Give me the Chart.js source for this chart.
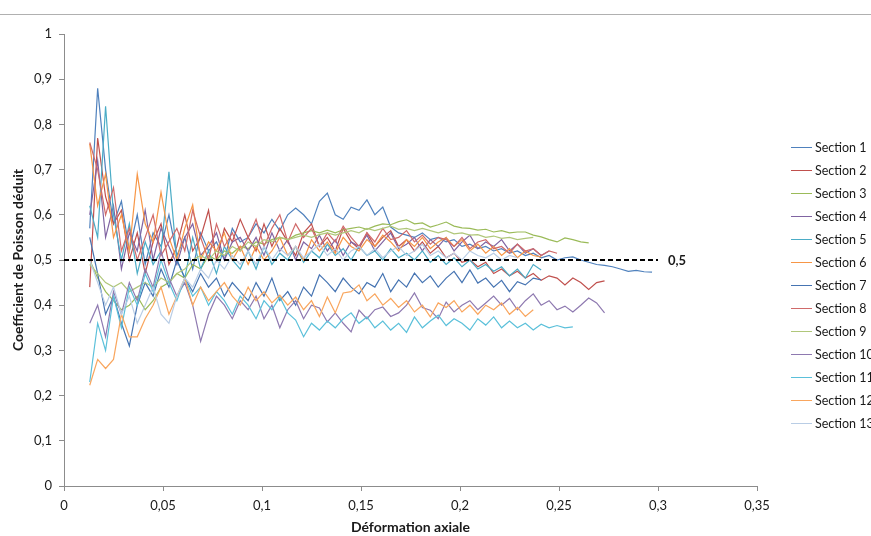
<!DOCTYPE html>
<html><head><meta charset="utf-8">
<script src="https://cdn.jsdelivr.net/npm/chart.js@4/dist/chart.umd.min.js"></script>
<style>html,body{margin:0;padding:0;background:#fff;overflow:hidden}canvas{display:block}</style>
</head><body>
<canvas id="c" width="871" height="536"></canvas>
<script>
// Axial strain sample grid
const xs = [0.013,0.017,0.021,0.025,0.029,0.033,0.037,0.041,0.045,0.049,
0.053,0.057,0.061,0.065,0.069,0.073,0.077,0.081,0.085,0.089,
0.093,0.097,0.101,0.105,0.109,0.113,0.117,0.121,0.125,0.129,
0.133,0.137,0.141,0.145,0.149,0.153,0.157,0.161,0.165,0.169,
0.173,0.177,0.181,0.185,0.189,0.193,0.197,0.201,0.205,0.209,
0.213,0.217,0.221,0.225,0.229,0.233,0.237,0.241,0.245,0.249,
0.253,0.257,0.261,0.265,0.269,0.273,0.277,0.281,0.285,0.289,
0.293,0.297];

const s1 = [0.57,0.88,0.70,0.58,0.63,0.52,0.60,0.49,0.56,0.53,
0.60,0.51,0.55,0.48,0.56,0.52,0.54,0.50,0.57,0.54,
0.55,0.58,0.56,0.59,0.565,0.60,0.615,0.60,0.58,0.63,
0.648,0.60,0.59,0.617,0.61,0.633,0.60,0.617,0.573,0.56,
0.555,0.55,0.56,0.545,0.55,0.54,0.545,0.53,0.535,0.525,
0.53,0.52,0.525,0.515,0.52,0.51,0.515,0.505,0.51,0.50,
0.505,0.507,0.50,0.495,0.49,0.488,0.485,0.48,0.475,0.477,
0.474,0.473];
const s2 = [0.44,0.77,0.64,0.58,0.61,0.50,0.56,0.47,0.54,0.58,
0.49,0.53,0.60,0.52,0.55,0.61,0.50,0.57,0.54,0.59,
0.55,0.52,0.58,0.53,0.57,0.54,0.51,0.56,0.58,0.53,
0.55,0.52,0.57,0.54,0.525,0.56,0.53,0.55,0.565,0.53,
0.545,0.52,0.54,0.515,0.53,0.505,0.515,0.495,0.50,0.485,
0.495,0.47,0.48,0.465,0.475,0.46,0.47,0.455,0.465,0.46,
0.445,0.46,0.45,0.435,0.45,0.454];
const s3 = [0.50,0.46,0.43,0.41,0.39,0.40,0.42,0.39,0.41,0.44,
0.45,0.47,0.46,0.49,0.48,0.51,0.50,0.52,0.515,0.53,
0.525,0.54,0.535,0.545,0.55,0.545,0.555,0.56,0.565,0.56,
0.566,0.56,0.567,0.57,0.573,0.568,0.575,0.58,0.578,0.585,
0.589,0.58,0.582,0.573,0.578,0.584,0.575,0.571,0.57,0.566,
0.568,0.562,0.565,0.56,0.562,0.562,0.555,0.551,0.545,0.54,
0.549,0.545,0.54,0.538];
const s4 = [0.60,0.72,0.55,0.62,0.48,0.56,0.52,0.61,0.50,0.57,
0.53,0.49,0.55,0.58,0.51,0.53,0.56,0.50,0.54,0.55,
0.52,0.55,0.51,0.56,0.52,0.545,0.50,0.54,0.525,0.555,
0.52,0.545,0.51,0.54,0.53,0.555,0.52,0.54,0.56,0.525,
0.535,0.55,0.52,0.545,0.53,0.55,0.52,0.54,0.555,0.525,
0.54,0.53,0.545,0.52,0.535,0.515,0.525,0.51,0.52];
const s5 = [0.62,0.55,0.84,0.60,0.50,0.58,0.47,0.54,0.49,0.52,
0.695,0.50,0.46,0.55,0.48,0.52,0.47,0.53,0.50,0.48,
0.52,0.48,0.53,0.49,0.515,0.50,0.53,0.495,0.52,0.505,
0.535,0.51,0.525,0.50,0.53,0.51,0.52,0.50,0.525,0.505,
0.515,0.50,0.52,0.495,0.51,0.49,0.505,0.485,0.50,0.48,
0.49,0.475,0.485,0.465,0.48,0.46,0.49,0.478];
const s6 = [0.757,0.62,0.69,0.55,0.60,0.52,0.69,0.58,0.54,0.65,
0.55,0.50,0.57,0.622,0.50,0.54,0.52,0.56,0.50,0.53,
0.49,0.53,0.50,0.52,0.55,0.51,0.53,0.50,0.545,0.52,
0.54,0.515,0.55,0.53,0.52,0.545,0.53,0.555,0.54,0.52,
0.545,0.53,0.55,0.525,0.54,0.55,0.53,0.545,0.52,0.535,
0.515,0.53,0.51,0.525,0.505,0.52,0.51,0.507];
const s7 = [0.55,0.47,0.38,0.42,0.36,0.31,0.40,0.45,0.42,0.48,
0.44,0.50,0.46,0.43,0.47,0.44,0.46,0.42,0.45,0.43,
0.41,0.45,0.42,0.46,0.41,0.43,0.40,0.44,0.42,0.467,
0.45,0.43,0.46,0.44,0.425,0.45,0.44,0.47,0.43,0.456,
0.44,0.471,0.45,0.465,0.44,0.46,0.475,0.45,0.478,0.449,
0.46,0.44,0.455,0.43,0.452,0.445,0.46,0.456];
const s8 = [0.76,0.70,0.60,0.66,0.52,0.57,0.50,0.55,0.60,0.51,
0.54,0.57,0.52,0.61,0.55,0.50,0.58,0.53,0.56,0.52,
0.55,0.59,0.53,0.57,0.60,0.54,0.58,0.55,0.57,0.53,
0.56,0.54,0.575,0.55,0.53,0.56,0.54,0.57,0.545,0.55,
0.565,0.54,0.555,0.535,0.55,0.545,0.53,0.55,0.525,0.54,
0.545,0.525,0.53,0.515,0.535,0.52,0.525,0.51,0.52,0.515];
const s9 = [0.49,0.47,0.45,0.44,0.45,0.43,0.44,0.45,0.44,0.46,
0.45,0.47,0.48,0.50,0.51,0.50,0.52,0.51,0.53,0.52,
0.54,0.53,0.545,0.54,0.55,0.545,0.55,0.555,0.55,0.556,
0.56,0.555,0.56,0.565,0.56,0.57,0.565,0.57,0.575,0.568,
0.57,0.565,0.57,0.565,0.56,0.565,0.558,0.56,0.555,0.556,
0.55,0.553,0.548,0.55,0.545,0.548,0.55];
const s10 = [0.36,0.40,0.33,0.43,0.38,0.45,0.41,0.48,0.44,0.52,
0.46,0.42,0.45,0.40,0.32,0.38,0.42,0.40,0.37,0.41,
0.39,0.42,0.37,0.40,0.35,0.39,0.41,0.37,0.40,0.394,
0.363,0.383,0.36,0.341,0.389,0.37,0.39,0.396,0.375,0.383,
0.40,0.427,0.395,0.389,0.37,0.407,0.385,0.40,0.41,0.39,
0.405,0.42,0.40,0.415,0.39,0.41,0.425,0.40,0.41,0.39,
0.398,0.385,0.40,0.416,0.405,0.383];
const s11 = [0.23,0.36,0.30,0.42,0.35,0.44,0.40,0.47,0.43,0.50,
0.45,0.41,0.46,0.42,0.44,0.40,0.43,0.41,0.38,0.42,
0.40,0.37,0.41,0.39,0.418,0.383,0.367,0.33,0.36,0.345,
0.365,0.35,0.37,0.383,0.36,0.374,0.35,0.365,0.345,0.36,
0.34,0.374,0.35,0.365,0.378,0.355,0.37,0.36,0.345,0.37,
0.356,0.374,0.35,0.365,0.35,0.36,0.345,0.358,0.35,0.355,
0.35,0.352];
const s12 = [0.223,0.28,0.26,0.28,0.38,0.33,0.33,0.37,0.40,0.44,
0.38,0.42,0.46,0.40,0.44,0.41,0.43,0.45,0.42,0.40,
0.44,0.41,0.43,0.405,0.422,0.40,0.418,0.39,0.41,0.375,
0.418,0.383,0.427,0.43,0.445,0.41,0.425,0.40,0.415,0.395,
0.41,0.385,0.40,0.374,0.405,0.395,0.41,0.385,0.40,0.38,
0.40,0.39,0.405,0.38,0.395,0.375,0.39];
const s13 = [0.50,0.45,0.40,0.44,0.38,0.42,0.36,0.40,0.44,0.38,
0.36,0.42,0.46,0.44,0.48,0.46,0.50,0.48,0.51,0.49,
0.52,0.49,0.53,0.50,0.525,0.51,0.53,0.505,0.52,0.535,
0.51,0.525,0.50,0.52,0.53,0.51,0.525,0.505,0.52,0.53,
0.51,0.52,0.535,0.51,0.52,0.505,0.515,0.50,0.52,0.51,
0.505,0.515,0.50,0.51,0.505];

const sectionNames = ['Section 1','Section 2','Section 3','Section 4','Section 5','Section 6','Section 7',
  'Section 8','Section 9','Section 10','Section 11','Section 12','Section 13'];
const sectionColors = ['#4F81BD','#C0504D','#9BBB59','#8064A2','#4BACC6','#F79646','#4674B2',
  '#D06A6A','#B0C77A','#8E79B0','#5BC0DA','#F9A65E','#B9CDE5'];

// Reference line (nu = 0.5)
const refX = [0, 0.3];
const refY = [0.5, 0.5];
const refLabel = '0,5';

const xTitle = 'Déformation axiale';
const yTitle = 'Coefficient de Poisson déduit';

const series = [s1,s2,s3,s4,s5,s6,s7,s8,s9,s10,s11,s12,s13];
const FONT = 'Lato';
const TXT = '#1a1a1a';
const fmt = v => String(Number(v.toFixed(2))).replace('.', ',');

const datasets = series.map((ys, k) => ({
  label: sectionNames[k],
  data: ys.map((y, i) => ({x: xs[i], y: y})),
  borderColor: sectionColors[k],
  backgroundColor: sectionColors[k],
  borderWidth: 1.2,
  pointRadius: 0,
  showLine: true,
  fill: false,
  tension: 0,
  order: 100 - k
}));
datasets.push({
  label: 'ref',
  data: refX.map((x, i) => ({x: x, y: refY[i]})),
  borderColor: '#000',
  borderWidth: 2,
  borderDash: [5, 3],
  pointRadius: 0,
  showLine: true,
  fill: false,
  order: 0
});

const decor = {
  id: 'decor',
  beforeDraw(chart) {
    const ctx = chart.ctx;
    ctx.save();
    ctx.fillStyle = '#fff';
    ctx.fillRect(0, 0, chart.width, chart.height);
    ctx.fillStyle = '#b0b0b0';
    ctx.fillRect(0, 14, chart.width, 1);
    ctx.restore();
  },
  afterDraw(chart) {
    const ctx = chart.ctx;
    ctx.save();
    const px = chart.scales.x.getPixelForValue(refX[1]) + 10;
    const py = chart.scales.y.getPixelForValue(refY[1]);
    ctx.font = 'bold 13px ' + FONT;
    ctx.fillStyle = TXT;
    ctx.textBaseline = 'middle';
    ctx.textAlign = 'left';
    ctx.fillText(refLabel, px, py + 1);
    ctx.font = '12.5px ' + FONT;
    sectionNames.forEach((name, k) => {
      const y = 147 + 23 * k;
      ctx.strokeStyle = sectionColors[k];
      ctx.lineWidth = 1;
      ctx.beginPath();
      ctx.moveTo(791, y + 0.5);
      ctx.lineTo(812, y + 0.5);
      ctx.stroke();
      ctx.fillStyle = TXT;
      ctx.fillText(name, 815, y + 1);
    });
    ctx.restore();
  }
};

new Chart(document.getElementById('c'), {
  type: 'scatter',
  data: { datasets: datasets },
  options: {
    responsive: false,
    animation: false,
    layout: { padding: { top: 34, right: 114, left: 0, bottom: 0 } },
    plugins: { legend: { display: false }, tooltip: { enabled: false } },
    scales: {
      x: {
        type: 'linear', min: 0, max: 0.35,
        ticks: { stepSize: 0.05, callback: v => fmt(v), font: { family: FONT, size: 13 }, color: TXT, padding: 7, maxRotation: 0 },
        grid: { drawOnChartArea: false, drawTicks: true, tickLength: 5, color: '#8c8c8c' },
        border: { display: true, color: '#8c8c8c' },
        title: { display: true, text: xTitle, font: { family: FONT, size: 14, weight: 'bold' }, color: TXT, padding: { top: 0, bottom: 0 } },
        afterFit: s => { s.height = 50; }
      },
      y: {
        type: 'linear', min: 0, max: 1,
        ticks: { stepSize: 0.1, callback: v => fmt(v), font: { family: FONT, size: 13 }, color: TXT, padding: 7 },
        grid: { drawOnChartArea: false, drawTicks: true, tickLength: 5, color: '#8c8c8c' },
        border: { display: true, color: '#8c8c8c' },
        title: { display: true, text: yTitle, font: { family: FONT, size: 14, weight: 'bold' }, color: TXT, padding: { top: 10, bottom: 0 } },
        afterFit: s => { s.width = 64; }
      }
    }
  },
  plugins: [decor]
});
</script>
</body></html>
